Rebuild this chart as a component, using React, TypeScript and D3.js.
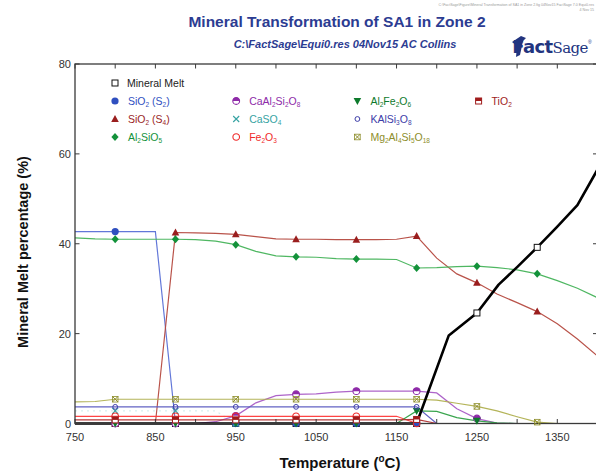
import * as d3 from "d3";

// temperature grid (°C) shared by most phases
const temps = [750, 775, 800, 825, 850, 875, 900, 925, 950, 975, 1000, 1025, 1050, 1075, 1100, 1125, 1150, 1175, 1200, 1225, 1250, 1275, 1300, 1325, 1350, 1375, 1400];
const markerTemps = [800, 875, 950, 1025, 1100, 1175, 1250, 1325];

// mineral melt has its own points (kink near 1215)
const meltTemps = [750, 800, 875, 950, 1025, 1100, 1175, 1215, 1250, 1277, 1300, 1325, 1350, 1375, 1400];
const meltPct = [0, 0, 0, 0, 0, 0, 0, 19.6, 24.6, 30.9, 34.8, 39.2, 43.8, 48.6, 56.5];

const N = null;
const sio2S2 = [42.7, 42.7, 42.7, 42.7, 42.7, 0, 0, 0, 0, 0, 0, 0, 0, 0, 0, 0, 0, 0, N, N, N, N, N, N, N, N, N];
const sio2S4 = [0, 0, 0, 0, 0, 42.5, 42.4, 42.3, 42.1, 41.6, 41.1, 41.0, 41.0, 40.9, 40.9, 40.9, 41.0, 41.7, 36.8, 33.3, 31.3, 28.8, 26.9, 24.9, 22.2, 18.8, 15.0];
const al2sio5 = [41.3, 41.1, 41.0, 41.0, 41.0, 41.0, 40.9, 40.6, 39.8, 38.3, 37.3, 37.1, 37.0, 36.7, 36.6, 36.6, 36.5, 34.6, 34.7, 34.9, 35.0, 34.7, 34.2, 33.3, 31.8, 30.1, 28.0];
const caal2si2o8 = [0, 0, 0, 0, 0, 0, 0, 0.4, 1.7, 4.6, 6.2, 6.5, 6.6, 7.0, 7.2, 7.2, 7.2, 7.2, 6.8, 3.3, 1.1, 0.1, 0, N, N, N, N];
const caso4 = [2.8, 2.8, 2.8, 2.8, 2.8, 2.8, 2.8, 2.8, 0, N, N, N, N, N, N, N, N, N, N, N, N, N, N, N, N, N, N];
const fe2o3 = [1.6, 1.6, 1.6, 1.6, 1.6, 1.6, 1.6, 1.6, 1.6, 1.6, 1.6, 1.6, 1.6, 1.6, 1.6, 1.6, 1.6, 0, N, N, N, N, N, N, N, N, N];
const al2fe2o6 = [0, 0, 0, 0, 0, 0, 0, 0, 0, 0, 0, 0, 0, 0, 0, 0, 0, 2.8, 2.7, 1.3, 0.6, 0.15, 0, N, N, N, N];
const kalsi3o8 = [3.7, 3.7, 3.7, 3.7, 3.7, 3.7, 3.7, 3.7, 3.7, 3.7, 3.7, 3.7, 3.7, 3.7, 3.7, 3.7, 3.7, 3.7, 0, N, N, N, N, N, N, N, N];
const mg2al4si5o18 = [4.8, 4.9, 5.4, 5.4, 5.4, 5.4, 5.4, 5.4, 5.4, 5.4, 5.4, 5.4, 5.4, 5.4, 5.4, 5.4, 5.4, 5.4, 5.2, 4.5, 3.8, 2.8, 1.5, 0.3, 0, N, N];
const tio2 = [0.8, 0.8, 0.8, 0.8, 0.8, 0.8, 0.8, 0.8, 0.8, 0.8, 0.8, 0.8, 0.8, 0.8, 0.8, 0.8, 0.8, 0.9, 0, N, N, N, N, N, N, N, N];

const xTicks = [750, 800, 850, 900, 950, 1000, 1050, 1100, 1150, 1200, 1250, 1300, 1350, 1400];
const xTickLabels = [750, 850, 950, 1050, 1150, 1250, 1350];
const yTicks = [0, 20, 40, 60, 80];

type Shape = "square" | "circle" | "triUp" | "triDown" | "diamond" | "halfCircle" | "cross" | "openCircle" | "smallCircle" | "boxCross" | "halfSquare";

interface Series {
  label: string;
  color: string;
  line: string;
  shape: Shape;
  t: number[];
  v: (number | null)[];
  width?: number;
  faint?: boolean;
}

const melt: Series = { label: "Mineral Melt", color: "#111", line: "#000", shape: "square", t: meltTemps, v: meltPct, width: 2.6 };

const series: Series[] = [
  { label: "SiO_2 (S_2)", color: "#2f4fbf", line: "#5a70d6", shape: "circle", t: temps, v: sio2S2 },
  { label: "SiO_2 (S_4)", color: "#9a1e1e", line: "#b54a40", shape: "triUp", t: temps, v: sio2S4 },
  { label: "Al_2SiO_5", color: "#13923a", line: "#46b35a", shape: "diamond", t: temps, v: al2sio5 },
  { label: "CaAl_2Si_2O_8", color: "#8e2aa8", line: "#a95cc6", shape: "halfCircle", t: temps, v: caal2si2o8 },
  { label: "CaSO_4", color: "#36a3a3", line: "#7cc8c8", shape: "cross", t: temps, v: caso4, faint: true },
  { label: "Fe_2O_3", color: "#f02a2a", line: "#ff3a3a", shape: "openCircle", t: temps, v: fe2o3 },
  { label: "Al_2Fe_2O_6", color: "#0d7a2c", line: "#2fa045", shape: "triDown", t: temps, v: al2fe2o6 },
  { label: "KAlSi_3O_8", color: "#3d3da8", line: "#5a5ac0", shape: "smallCircle", t: temps, v: kalsi3o8 },
  { label: "Mg_2Al_4Si_5O_18", color: "#8d8d2a", line: "#b0b050", shape: "boxCross", t: temps, v: mg2al4si5o18 },
  { label: "TiO_2", color: "#a01c1c", line: "#b03030", shape: "halfSquare", t: temps, v: tio2 },
];

// legend grid: [series index, column, row]
const legendSlots: [number, number, number][] = [
  [0, 0, 1], [1, 0, 2], [2, 0, 3],
  [3, 1, 1], [4, 1, 2], [5, 1, 3],
  [6, 2, 1], [7, 2, 2], [8, 2, 3],
  [9, 3, 1],
];

const W = 596;
const H = 474;
const FONT = "'Liberation Sans', Arial, sans-serif";

const x = d3.scaleLinear().domain([750, 1400]).range([75, 597.5]);
const y = d3.scaleLinear().domain([0, 80]).range([423.5, 64]);

function Marker({ shape, cx, cy, color }: { shape: Shape; cx: number; cy: number; color: string }) {
  const t = `translate(${cx},${cy})`;
  switch (shape) {
    case "square":
      return <rect transform={t} x={-3} y={-3} width={6} height={6} fill="#fff" stroke={color} strokeWidth={1} />;
    case "circle":
      return <circle transform={t} r={3.6} fill={color} />;
    case "triUp":
      return <path transform={t} d="M0,-4 L3.8,3 L-3.8,3 Z" fill={color} />;
    case "triDown":
      return <path transform={t} d="M0,4 L3.8,-3 L-3.8,-3 Z" fill={color} />;
    case "diamond":
      return <path transform={t} d="M0,-4 L3.6,0 L0,4 L-3.6,0 Z" fill={color} />;
    case "halfCircle":
      return (
        <g transform={t}>
          <circle r={3.4} fill="#fff" stroke={color} strokeWidth={1.1} />
          <path d="M-3.4,0 A3.4,3.4 0 0 1 3.4,0 Z" fill={color} />
        </g>
      );
    case "cross":
      return <path transform={t} d="M-3,-3 L3,3 M3,-3 L-3,3" stroke={color} strokeWidth={1.1} />;
    case "openCircle":
      return <circle transform={t} r={3.3} fill="none" stroke={color} strokeWidth={1.1} />;
    case "smallCircle":
      return <circle transform={t} r={2.4} fill="none" stroke={color} strokeWidth={1} />;
    case "boxCross":
      return (
        <g transform={t}>
          <rect x={-2.8} y={-2.8} width={5.6} height={5.6} fill="none" stroke={color} strokeWidth={0.8} />
          <path d="M-2.8,-2.8 L2.8,2.8 M2.8,-2.8 L-2.8,2.8" stroke={color} strokeWidth={1} />
        </g>
      );
    case "halfSquare":
      return (
        <g transform={t}>
          <rect x={-3} y={-3} width={6} height={6} fill="#fff" stroke={color} strokeWidth={1} />
          <rect x={-3} y={-3} width={6} height={3} fill={color} />
        </g>
      );
  }
  return null;
}

// "SiO_2 (S_2)" -> SiO₂ (S₂) using tspans
function Formula({ label, size }: { label: string; size: number }) {
  const parts = label.split(/(_\d+)/).filter((p) => p.length);
  return (
    <>
      {parts.map((p, i) =>
        p.startsWith("_") ? (
          <tspan key={i} fontSize={size * 0.62} baselineShift="-28%">
            {p.slice(1)}
          </tspan>
        ) : (
          <tspan key={i}>{p}</tspan>
        )
      )}
    </>
  );
}

function pathFor(s: Series) {
  const pts = s.t.map((t, i) => [t, s.v[i]] as [number, number | null]).filter((d) => d[1] !== null) as [number, number][];
  return d3
    .line<[number, number]>()
    .x((d) => x(d[0]))
    .y((d) => y(d[1]))(pts) ?? "";
}

function markersFor(s: Series) {
  return s.t
    .map((t, i) => ({ t, v: s.v[i] }))
    .filter((d) => d.v !== null && markerTemps.includes(d.t)) as { t: number; v: number }[];
}

export default function App() {
  const x0 = x.range()[0];
  const x1 = x.range()[1];
  const yb = y(0);
  const yt = y(80);

  return (
    <svg width={W} height={H} style={{ position: "absolute", left: 0, top: 0, background: "#fff" }} fontFamily={FONT}>
      <rect width={W} height={H} fill="#fff" />

      {/* tiny header text */}
      <text x={594} y={6} fontSize={3.6} fill="#9a9a9a" textAnchor="end">
        C:\FactSage\Figure\Mineral Transformation of SA1 in Zone 2.fig  04Nov15  FactSage 7.0  Equi0.res
      </text>
      <text x={594} y={11} fontSize={3.6} fill="#9a9a9a" textAnchor="end">
        4 Nov 15
      </text>

      {/* titles */}
      <text x={337} y={27} textAnchor="middle" fontSize={15.5} fontWeight="bold" fill="#2c3c92">
        Mineral Transformation of SA1 in Zone 2
      </text>
      <text x={345} y={48} textAnchor="middle" fontSize={11} fontWeight="bold" fontStyle="italic" fill="#2c3c92">
        {"C:\\FactSage\\Equi0.res  04Nov15 AC Collins"}
      </text>

      {/* FactSage logo */}
      <g fill="#22347f">
        <path d="M512,42 L521,36 L526,38 L523,41 L520,55 L516,57 L517,46 Z" />
        <text x={591} y={53} textAnchor="end" letterSpacing={-0.6}>
          <tspan fontSize={18} fontWeight="bold" fontFamily="'DejaVu Sans', sans-serif">Fact</tspan>
          <tspan fontSize={15} fontFamily="'DejaVu Serif', serif">Sage</tspan>
          <tspan fontSize={5} dy={-9}>®</tspan>
        </text>
      </g>

      {/* lines */}
      <g clipPath="url(#plotClip)">
        {series.map((s) => (
          <path
            key={s.label}
            d={pathFor(s)}
            fill="none"
            stroke={s.line}
            strokeWidth={1.2}
            strokeOpacity={s.faint ? 0.3 : 0.95}
            strokeDasharray={s.faint ? "2,4" : undefined}
          />
        ))}
        <path d={pathFor(melt)} fill="none" stroke={melt.line} strokeWidth={melt.width} strokeLinejoin="round" />
      </g>
      <defs>
        <clipPath id="plotClip">
          <rect x={x0} y={yt} width={x1 - x0} height={yb - yt + 3} />
        </clipPath>
      </defs>

      {/* frame + ticks */}
      <rect x={x0} y={yt} width={x1 - x0} height={yb - yt} fill="none" stroke="#3a3a3a" strokeWidth={1.3} />
      {xTicks.map((t) => (
        <g key={t} stroke="#3a3a3a" strokeWidth={1}>
          <line x1={x(t)} x2={x(t)} y1={yb} y2={yb - 4.5} />
          <line x1={x(t)} x2={x(t)} y1={yt} y2={yt + 4.5} />
        </g>
      ))}
      {yTicks.map((v) => (
        <g key={v} stroke="#3a3a3a" strokeWidth={1}>
          <line x1={x0} x2={x0 + 4.5} y1={y(v)} y2={y(v)} />
          <line x1={x1} x2={x1 - 4.5} y1={y(v)} y2={y(v)} />
        </g>
      ))}

      {/* markers */}
      {[melt, ...series].map((s) =>
        markersFor(s).map((d) => <Marker key={s.label + d.t} shape={s.shape} cx={x(d.t)} cy={y(d.v)} color={s.color} />)
      )}

      {/* tick labels */}
      {xTickLabels.map((t) => (
        <text key={t} x={x(t)} y={441} textAnchor="middle" fontSize={11} fill="#333">
          {t}
        </text>
      ))}
      {yTicks.map((v) => (
        <text key={v} x={71} y={y(v) + 4} textAnchor="end" fontSize={11} fill="#333">
          {v}
        </text>
      ))}

      {/* axis titles */}
      <text x={340} y={468} textAnchor="middle" fontSize={15} fontWeight="bold" fill="#111">
        Temperature (<tspan fontSize={10} dy={-6}>o</tspan>
        <tspan dy={6}>C)</tspan>
      </text>
      <text transform="translate(28,252) rotate(-90)" textAnchor="middle" fontSize={14.5} fontWeight="bold" fill="#111">
        Mineral Melt percentage (%)
      </text>

      {/* legend */}
      <g fontSize={10.5}>
        <Marker shape={melt.shape} cx={115} cy={83} color={melt.color} />
        <text x={127} y={86.7} fill="#222">
          {melt.label}
        </text>
        {legendSlots.map(([si, col, row]) => {
          const s = series[si];
          const mx = 115 + col * 121.2;
          const my = 83 + row * 18;
          return (
            <g key={s.label}>
              <Marker shape={s.shape} cx={mx} cy={my} color={s.color} />
              <text x={mx + 13} y={my + 3.7} fill={s.color}>
                <Formula label={s.label} size={10.5} />
              </text>
            </g>
          );
        })}
      </g>
    </svg>
  );
}
